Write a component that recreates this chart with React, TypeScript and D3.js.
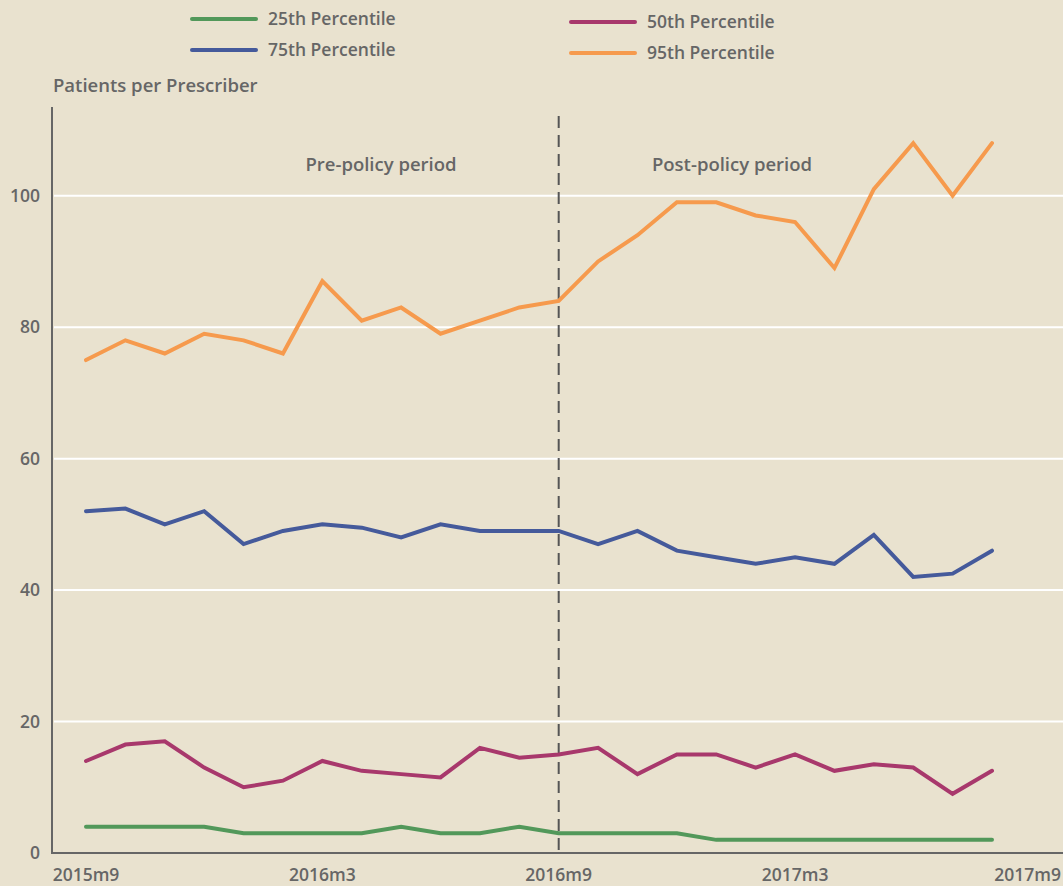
import React from 'react';
import { scaleLinear, line } from 'd3';

const months = [
  '2015m9', '2015m10', '2015m11', '2015m12', '2016m1', '2016m2', '2016m3', '2016m4',
  '2016m5', '2016m6', '2016m7', '2016m8', '2016m9', '2016m10', '2016m11', '2016m12',
  '2017m1', '2017m2', '2017m3', '2017m4', '2017m5', '2017m6', '2017m7', '2017m8',
];
const xTickLabels = ['2015m9', '2016m3', '2016m9', '2017m3', '2017m9'];
const xTickIndex = [0, 6, 12, 18, 24];
const yTicks = [0, 20, 40, 60, 80, 100];

const p25 = [4, 4, 4, 4, 3, 3, 3, 3, 4, 3, 3, 4, 3, 3, 3, 3, 2, 2, 2, 2, 2, 2, 2, 2];
const p50 = [14, 16.5, 17, 13, 10, 11, 14, 12.5, 12, 11.5, 16, 14.5, 15, 16, 12, 15, 15, 13, 15, 12.5, 13.5, 13, 9, 12.5];
const p75 = [52, 52.4, 50, 52, 47, 49, 50, 49.5, 48, 50, 49, 49, 49, 47, 49, 46, 45, 44, 45, 44, 48.4, 42, 42.5, 46];
const p95 = [75, 78, 76, 79, 78, 76, 87, 81, 83, 79, 81, 83, 84, 90, 94, 99, 99, 97, 96, 89, 101, 108, 100, 108];

const seriesNames = ['25th Percentile', '50th Percentile', '75th Percentile', '95th Percentile'];
const seriesData = [p25, p50, p75, p95];
const seriesColors = ['#52985a', '#a8386c', '#455a9b', '#f69a4d'];

const policyIndex = months.indexOf('2016m9');

const W = 1063;
const H = 886;
const BG = '#e9e2cf';
const TEXT = '#666666';

function App() {
  const x = scaleLinear().domain([0, months.length - 1]).range([86, 992]);
  const y = scaleLinear().domain([0, 113.5]).range([853, 107]);

  const lineGen = line<number>()
    .x((d, i) => x(i))
    .y((d) => y(d));

  // legend: two columns, 25/75 on the left, 50/95 on the right
  const legendPos = [
    { lx: 191, ly: 19 },
    { lx: 570, ly: 22 },
    { lx: 191, ly: 50 },
    { lx: 570, ly: 53 },
  ];

  const font = "'Open Sans', sans-serif";

  return (
    <div style={{ position: 'absolute', left: 0, top: 0 }}>
      <svg width={W} height={H} style={{ display: 'block', fontFamily: font }}>
        <rect width={W} height={H} fill={BG} />

        {/* gridlines */}
        {yTicks.filter((t) => t > 0).map((t) => (
          <line key={t} x1={54} x2={W} y1={y(t)} y2={y(t)} stroke="#ffffff" strokeWidth={2} />
        ))}

        {/* y tick labels */}
        {yTicks.map((t) => (
          <text key={t} x={40} y={y(t) + 6} textAnchor="end" fontSize={17.5} fontWeight={600} fill={TEXT}>
            {t}
          </text>
        ))}

        {/* x tick labels (last one is pinned to the right edge) */}
        {xTickLabels.map((l, i) => {
          const last = i === xTickLabels.length - 1;
          return (
            <text
              key={l}
              x={last ? W - 2 : x(xTickIndex[i])}
              y={881}
              textAnchor={last ? 'end' : 'middle'}
              fontSize={17.5}
              fontWeight={600}
              fill={TEXT}
            >
              {l}
            </text>
          );
        })}

        {/* axes */}
        <line x1={52} x2={52} y1={y(113.5)} y2={854} stroke={TEXT} strokeWidth={2} />
        <line x1={51} x2={W} y1={853} y2={853} stroke={TEXT} strokeWidth={2} />

        {/* policy divider */}
        <line
          x1={x(policyIndex)}
          x2={x(policyIndex)}
          y1={116}
          y2={853}
          stroke="#555555"
          strokeWidth={2}
          strokeDasharray="12,7"
        />
        <text x={381} y={171} textAnchor="middle" fontSize={18.5} fontWeight={600} fill={TEXT}>
          Pre-policy period
        </text>
        <text x={732} y={171} textAnchor="middle" fontSize={18.5} fontWeight={600} fill={TEXT}>
          Post-policy period
        </text>

        {/* series */}
        {seriesData.map((s, i) => (
          <path
            key={seriesNames[i]}
            d={lineGen(s) || ''}
            fill="none"
            stroke={seriesColors[i]}
            strokeWidth={4}
            strokeLinecap="round"
            strokeLinejoin="miter"
          />
        ))}

        {/* y axis title */}
        <text x={53} y={92} fontSize={18.5} fontWeight={600} fill={TEXT}>
          Patients per Prescriber
        </text>

        {/* legend */}
        {seriesNames.map((n, i) => (
          <g key={n} transform={`translate(${legendPos[i].lx},${legendPos[i].ly})`}>
            <line x1={1} x2={65} y1={0} y2={0} stroke={seriesColors[i]} strokeWidth={4} strokeLinecap="round" />
            <text x={77} y={6} fontSize={17.5} fontWeight={600} fill={TEXT}>
              {n}
            </text>
          </g>
        ))}
      </svg>
    </div>
  );
}

export default App;
